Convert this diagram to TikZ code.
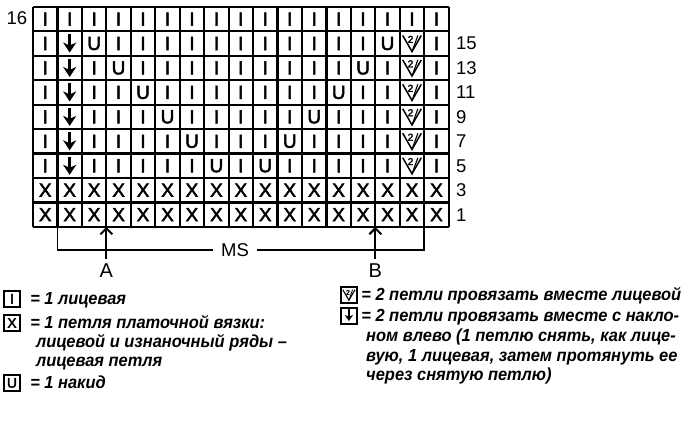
\documentclass[tikz,border=0pt]{standalone}
\usepackage{fontspec}
\setsansfont{Liberation Sans}
\newfontfamily\legfont{Liberation Sans}[FakeStretch=0.94]
\newfontfamily\chartfont{Liberation Sans}[FakeBold=2.5]
\usetikzlibrary{arrows.meta}

\tikzset{
	pics/twotog/.style={code={
		\draw[line width=1.5pt] (-0.38,0.33) -- (0.0,-0.33) -- (0.38,0.33);
		\draw[line width=1.1pt] (0.0,-0.33) -- (0.24,0.33);
		\node[font=\chartfont\fontsize{10}{10}\selectfont,inner sep=0pt] at (-0.06,0.17) {2};
	}},
	pics/slipdec/.style={code={
		\draw[line width=2.6pt,-{Stealth[length=10pt,width=13pt,inset=3pt]}] (0,0.37) -- (0,-0.37);
	}}
}

\begin{document}
\begin{tikzpicture}[x=24.45pt,y=24.45pt,font=\sffamily,
	stitch/.style={inner sep=0pt,font=\chartfont\fontsize{19}{19}\selectfont},
	rowlabel/.style={inner sep=0pt,font=\sffamily\fontsize{18.5}{18.5}\selectfont},
	legbox/.style={draw,line width=1.5pt,minimum width=16pt,minimum height=16pt,inner sep=0pt,font=\chartfont\fontsize{14}{14}\selectfont},
	legtext/.style={anchor=base west,inner sep=0pt,font=\legfont\bfseries\itshape\fontsize{17.5}{19}\selectfont}]

\fill[white] (-1.35,-7.93) rectangle (26.87,9.28);
\useasboundingbox (-1.35,-7.93) rectangle (26.87,9.28);

% Chart
\foreach \r in {0,1}{
\foreach \c in {0,...,16}{
	\node[stitch] (s-\c-\r) at (\c+0.5,\r+0.5) {X};
}
}
\foreach \c in {0,...,16}{
	\node[stitch] (s-\c-8) at (\c+0.5,8.5) {I};
}
\foreach \r in {2,...,7}{
	\pgfmathtruncatemacro{\ul}{9-\r}
	\pgfmathtruncatemacro{\ur}{7+\r}
	\foreach \c in {2,...,14}{
		\ifnum\c=\ul\relax \def\s{U}\else\ifnum\c=\ur\relax \def\s{U}\else\def\s{I}\fi\fi
		\node[stitch] (s-\c-\r) at (\c+0.5,\r+0.5) {\s};
	}
	\node[stitch] (s-0-\r) at (0.5,\r+0.5) {I};
	\node[stitch] (s-16-\r) at (16.5,\r+0.5) {I};
	\pic at (1.5,\r+0.5) {slipdec};
	\pic at (15.5,\r+0.5) {twotog};
}
\draw[line width=2.2pt,step=1] (0,0) grid (17,9);

\node[rowlabel] (r16) at (-0.66,8.55) {16};
\foreach \r/\n in {0/1,1/3,2/5,3/7,4/9,5/11,6/13,7/15}{
	\node[rowlabel,anchor=west] (r\n) at (17.3,\r+0.5) {\n};
}

% Repeat and start points
\coordinate (bl) at (1,0);
\coordinate (br) at (16,0);
\coordinate (ta) at (3,0);
\coordinate (tb) at (14,0);
\node[rowlabel,inner xsep=8pt] (MS) at (8.26,-0.94) {MS};
\draw[line width=1.8pt] (bl) |- (MS.west);
\draw[line width=1.8pt] (MS.east) -| (br);
\node[rowlabel,inner sep=4pt,font=\sffamily\fontsize{20}{20}\selectfont] (A) at (3,-1.78) {A};
\node[rowlabel,inner sep=4pt,font=\sffamily\fontsize{20}{20}\selectfont] (B) at (14,-1.78) {B};
\draw[line width=2pt,-{Straight Barb[length=6pt,width=12pt]}] (A.north) -- (ta);
\draw[line width=2pt,-{Straight Barb[length=6pt,width=12pt]}] (B.north) -- (tb);

% Legend
\node[legbox] (kI) at (-0.86,-2.94) {I};
\node[legtext] (tI) at (-0.12,-3.18) {= 1 лицевая};
\node[legbox] (kX) at (-0.86,-3.93) {X};
\node[legtext] (tX) at (-0.12,-4.17) {= 1 петля платочной вязки:};
\node[legtext] (tX2) at (0.12,-4.94) {лицевой и изнаночный ряды –};
\node[legtext] (tX3) at (0.12,-5.72) {лицевая петля};
\node[legbox] (kU) at (-0.86,-6.38) {U};
\node[legtext] (tU) at (-0.12,-6.62) {= 1 накид};

\node[legbox] (kV) at (12.92,-2.78) {};
\draw[line width=1.1pt] (12.67,-2.57) -- (12.92,-3.0) -- (13.17,-2.57);
\draw[line width=0.8pt] (12.92,-3.0) -- (13.07,-2.57);
\node[inner sep=0pt,font=\chartfont\fontsize{7}{7}\selectfont] (kV2) at (12.88,-2.68) {2};
\node[legtext] (tV) at (13.42,-3.02) {= 2 петли провязать вместе лицевой};
\node[legbox] (kD) at (12.92,-3.64) {};
\draw[line width=1.8pt,-{Stealth[length=6pt,width=8pt,inset=1.5pt]}] (kD.north) ++(0,-0.07) -- ++(0,-0.5);
\node[legtext] (tD) at (13.42,-3.88) {= 2 петли провязать вместе с накло-};
\node[legtext] (tD2) at (13.62,-4.70) {ном влево (1 петлю снять, как лице-};
\node[legtext] (tD3) at (13.62,-5.52) {вую, 1 лицевая, затем протянуть ее};
\node[legtext] (tD4) at (13.62,-6.29) {через снятую петлю)};

\end{tikzpicture}
\end{document}
